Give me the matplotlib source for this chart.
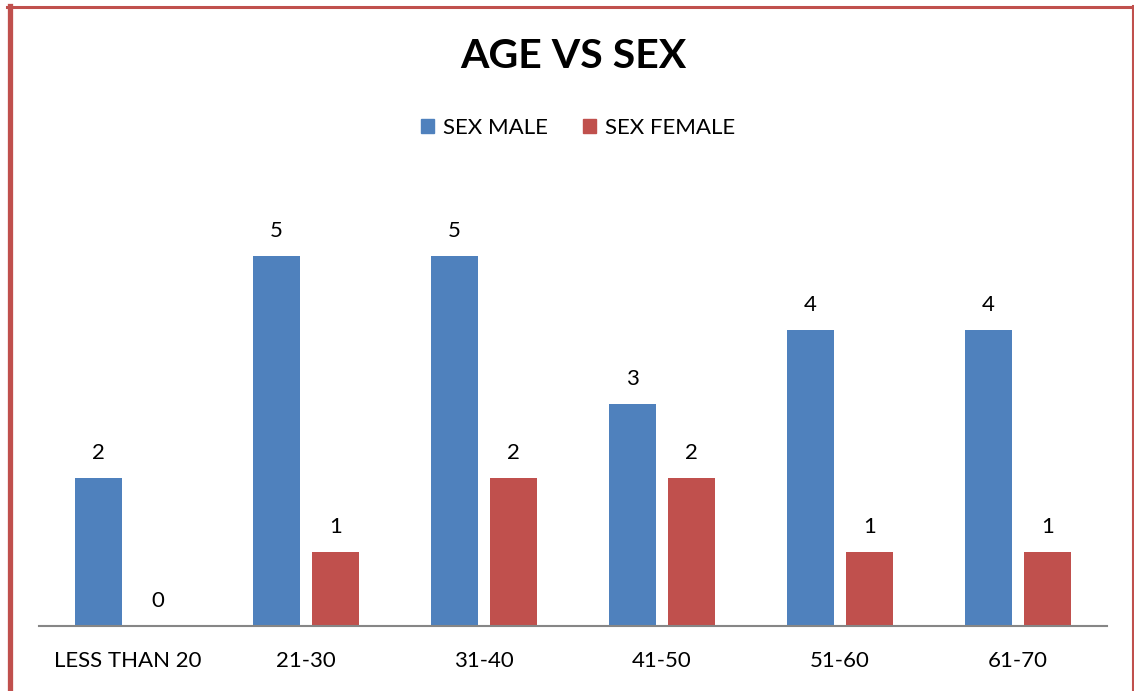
import numpy as np
import matplotlib.pyplot as plt
from matplotlib.lines import Line2D
from matplotlib.patches import Rectangle

plt.rcParams['font.family'] = ['Lato', 'DejaVu Sans']

categories = ['LESS THAN 20', '21-30', '31-40', '41-50', '51-60', '61-70']
male = [2, 5, 5, 3, 4, 4]
female = [0, 1, 2, 2, 1, 1]

W, H = 1134, 691
fig = plt.figure(figsize=(W / 100, H / 100), dpi=100)

# axes placed in pixel terms: x 39..1107, y(0)=626, y(6)=182
ax = fig.add_axes([39 / W, (H - 626) / H, 1068 / W, 444 / H])
x = np.arange(len(categories))
bw = 47 / 178
gap = 12 / 178
ax.bar(x - (bw + gap) / 2, male, bw, color='#4F81BD', label='SEX MALE')
ax.bar(x + (bw + gap) / 2, female, bw, color='#C0504D', label='SEX FEMALE')

for i in range(len(categories)):
    ax.text(x[i] - (bw + gap) / 2, male[i] + 0.2, str(male[i]), ha='center',
            va='bottom', fontsize=16)
    ax.text(x[i] + (bw + gap) / 2, female[i] + 0.2, str(female[i]), ha='center',
            va='bottom', fontsize=16)

ax.set_xlim(-0.5, len(categories) - 0.5)
ax.set_ylim(0, 6)
ax.set_yticks([])
ax.set_xticks(x)
ax.set_xticklabels(categories, fontsize=16)
ax.tick_params(axis='x', length=0, pad=18)
for s in ['top', 'right', 'left']:
    ax.spines[s].set_visible(False)
ax.spines['bottom'].set_color('#868686')
ax.spines['bottom'].set_linewidth(1.5)

fig.text(573 / W, 1 - 57 / H, 'AGE VS SEX', ha='center', va='center',
         fontsize=29.5, fontweight='bold')

handles = [Rectangle((0, 0), 1, 1, color='#4F81BD'), Rectangle((0, 0), 1, 1, color='#C0504D')]
fig.legend(handles, ['SEX MALE', 'SEX FEMALE'], loc='center', bbox_to_anchor=(578 / W, 1 - 128 / H),
           ncol=2, frameon=False, fontsize=16, handlelength=0.6, handleheight=0.6,
           handletextpad=0.4, columnspacing=1.6)

# red page border
fig.add_artist(Line2D([9.5 / W, 9.5 / W], [0, 1 - 6 / H], color='#C0504D', lw=3.8, transform=fig.transFigure))
fig.add_artist(Line2D([7 / W, 1133 / W], [1 - 7 / H, 1 - 7 / H], color='#C0504D', lw=2.2, transform=fig.transFigure))
fig.add_artist(Line2D([1132.5 / W, 1132.5 / W], [0, 1 - 6 / H], color='#C0504D', lw=1.5, transform=fig.transFigure))

fig.savefig('out.png', dpi=100)
